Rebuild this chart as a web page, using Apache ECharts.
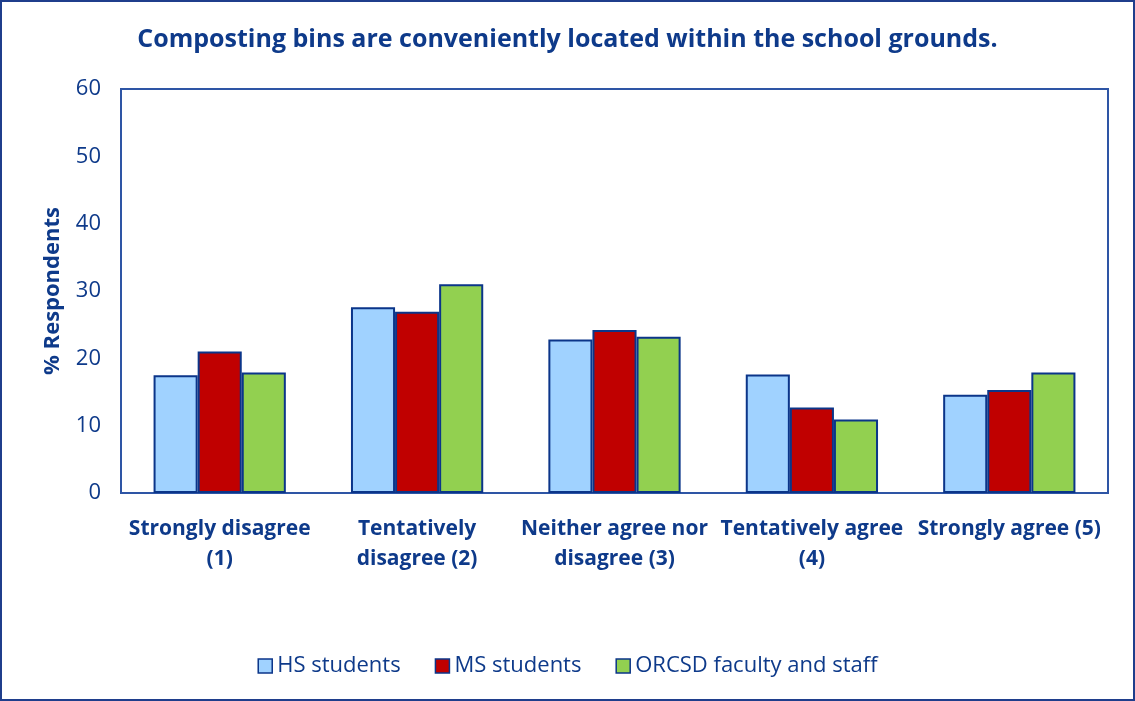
<!DOCTYPE html>
<html>
<head>
<meta charset="utf-8">
<script src="https://cdn.jsdelivr.net/npm/echarts@6/dist/echarts.min.js"></script>
<style>
html,body{margin:0;padding:0;background:#fff;}
#wrap{position:absolute;left:0;top:0;width:1131px;height:697px;border:2px solid #1F3E8C;}
#chart{width:1131px;height:697px;}
</style>
</head>
<body>
<div id="wrap"><div id="chart"></div></div>
<script>
const categories = ["Strongly disagree\n(1)", "Tentatively\ndisagree (2)", "Neither agree nor\ndisagree (3)", "Tentatively agree\n(4)", "Strongly agree (5)"];
const seriesNames = ["HS students", "MS students", "ORCSD faculty and staff"];
const hsValues = [17.5, 27.6, 22.8, 17.6, 14.6];
const msValues = [21.0, 26.9, 24.2, 12.7, 15.3];
const staffValues = [17.9, 31.0, 23.2, 10.9, 17.9];
const colors = ["#A0D2FF", "#C00000", "#92D050"];
const navy = "#0E3A8A";
const font = "Open Sans";

const chart = echarts.init(document.getElementById('chart'));
const mk = (name, data, i) => ({
  name: name, type: 'bar', data: data,
  barGap: '0%', barCategoryGap: '33%',
  itemStyle: {color: colors[i], borderColor: '#0B3589', borderWidth: 2},
  emphasis: {disabled: true}
});
chart.setOption({
  animation: false,
  textStyle: {fontFamily: font},
  title: {
    text: 'Composting bins are conveniently located within the school grounds.',
    left: 'center', top: 20,
    textStyle: {color: navy, fontSize: 25, fontWeight: 'bold', fontFamily: font}
  },
  grid: {left: 119, right: 25, top: 87, bottom: 206, show: true, borderColor: '#2E55A5', borderWidth: 2, backgroundColor: 'transparent'},
  legend: {
    top: 648, left: 'center', itemWidth: 14, itemHeight: 14, itemGap: 34,
    icon: 'rect',
    textStyle: {color: navy, fontSize: 22, fontFamily: font},
    data: seriesNames.map((n, i) => ({name: n, itemStyle: {color: colors[i], borderColor: '#0B3589', borderWidth: 1.5}}))
  },
  xAxis: {
    type: 'category', data: categories,
    axisLine: {show: true, lineStyle: {color: '#2E55A5', width: 2}},
    axisTick: {show: false},
    axisLabel: {color: navy, fontSize: 21, fontWeight: 'bold', lineHeight: 30, margin: 21, interval: 0, fontFamily: font}
  },
  yAxis: {
    type: 'value', min: 0, max: 60, interval: 10,
    name: '% Respondents', nameLocation: 'middle', nameGap: 57,
    nameTextStyle: {color: navy, fontSize: 22, fontWeight: 'bold', fontFamily: font},
    axisLine: {show: true, lineStyle: {color: '#2E55A5', width: 2}},
    axisTick: {show: false},
    splitLine: {show: false},
    axisLabel: {color: navy, fontSize: 22, margin: 20, fontFamily: font}
  },
  series: [mk(seriesNames[0], hsValues, 0), mk(seriesNames[1], msValues, 1), mk(seriesNames[2], staffValues, 2)]
});
</script>
</body>
</html>
